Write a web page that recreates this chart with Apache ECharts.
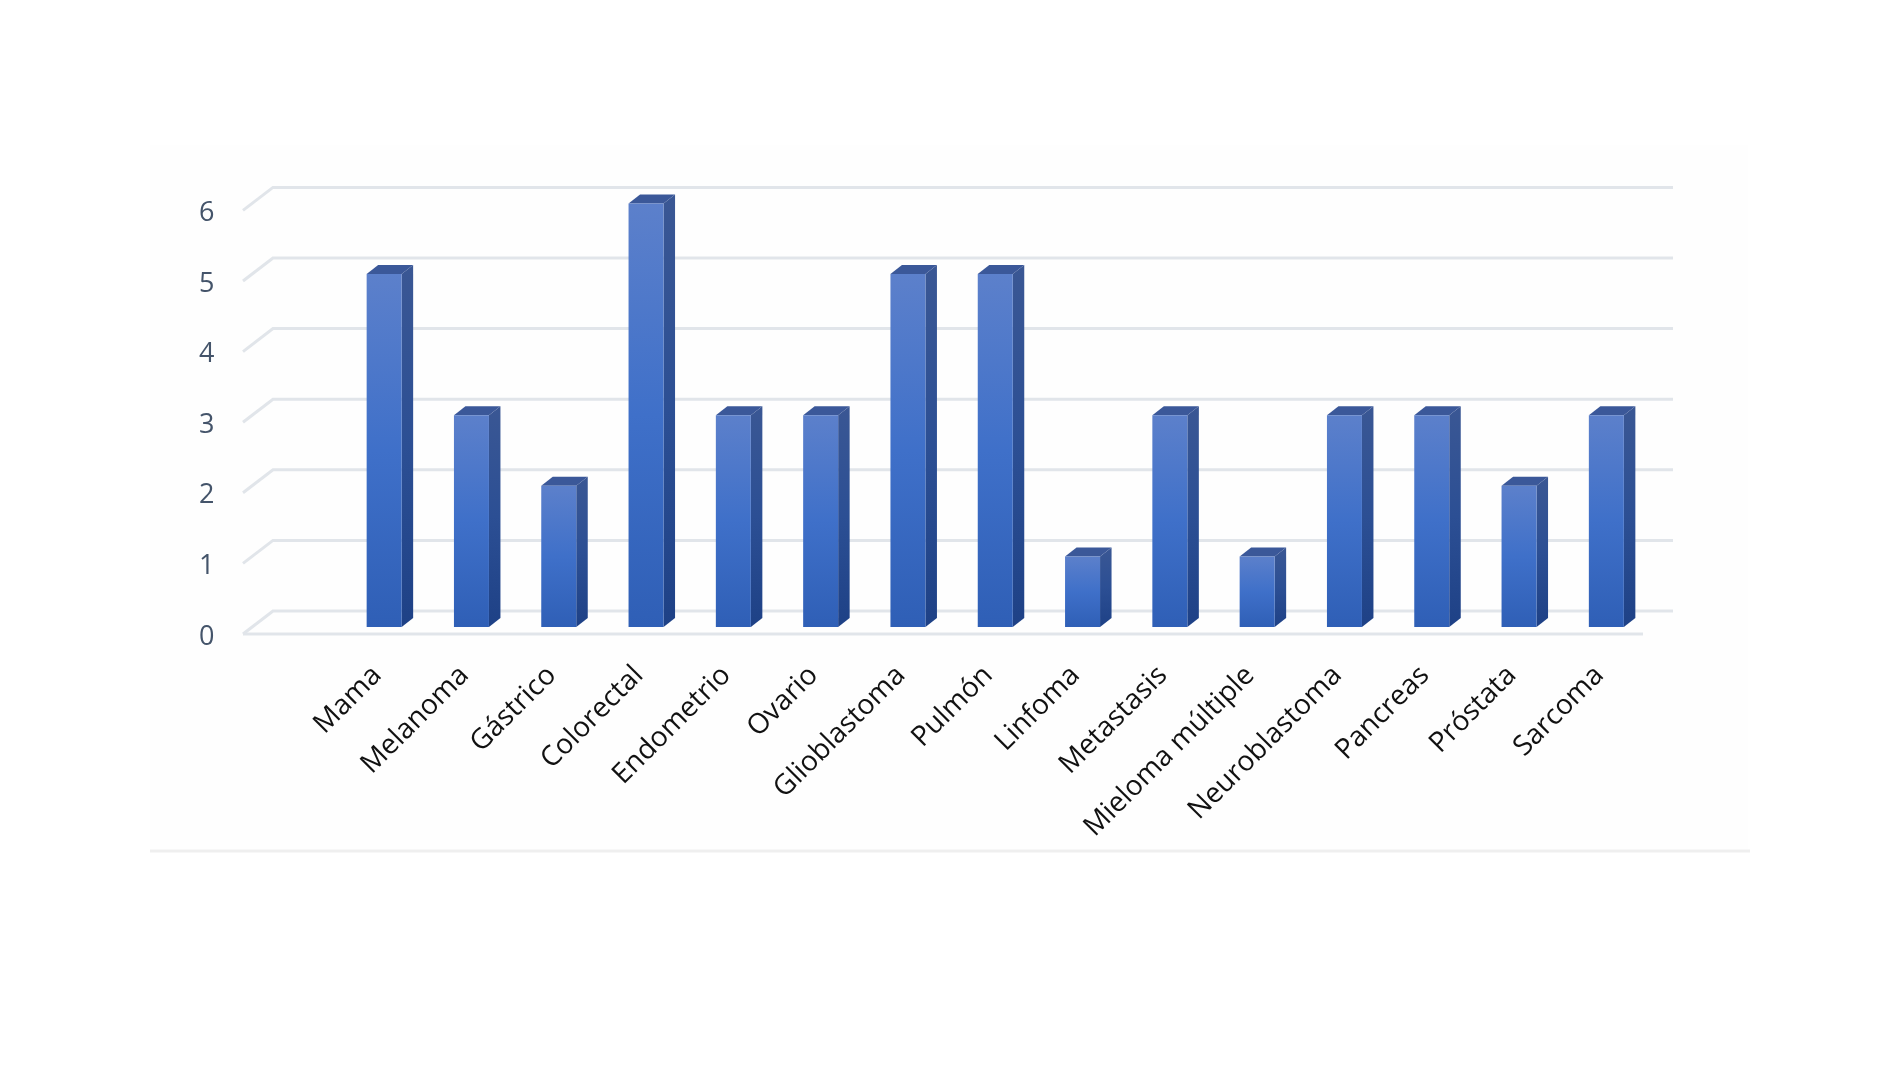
<!DOCTYPE html>
<html><head><meta charset="utf-8">
<style>html,body{margin:0;padding:0;background:#fff}#c{width:1900px;height:1069px}</style>
<script src="https://cdn.jsdelivr.net/npm/echarts@6/dist/echarts.min.js"></script>
</head><body><div id="c"></div>
<script>
const categories = ['Mama','Melanoma','Gástrico','Colorectal','Endometrio','Ovario','Glioblastoma','Pulmón','Linfoma','Metastasis','Mieloma múltiple','Neuroblastoma','Pancreas','Próstata','Sarcoma'];
const values = [5,3,2,6,3,3,5,5,1,3,1,3,3,2,3];
const yTicks = [0,1,2,3,4,5,6];

const chart = echarts.init(document.getElementById('c'), null, {renderer:'canvas'});
const grad = (a,b,c) => new echarts.graphic.LinearGradient(0,0,0,1,[{offset:0,color:a},{offset:.5,color:b},{offset:1,color:c}]);

chart.setOption({
  backgroundColor:'#ffffff',
  animation:false,
  graphic:[
    {type:'rect',silent:true,z:-10,shape:{x:150,y:145,width:1598,height:705},style:{fill:'#fefefe'}},
    {type:'line',silent:true,z:-9,shape:{x1:150,y1:851,x2:1750,y2:851},style:{stroke:'#efefef',lineWidth:3}}
  ],
  grid:{left:340.5,top:203.4,width:1309.5,height:423.6,containLabel:false},
  xAxis:{type:'category',data:categories,
    axisLine:{show:false},axisTick:{show:false},splitLine:{show:false},
    axisLabel:{rotate:45,interval:0,margin:51,verticalAlign:'bottom',lineHeight:20,fontFamily:'Open Sans',fontSize:28,color:'#111111'}},
  yAxis:{type:'value',min:0,max:6,interval:1,
    axisLine:{show:false},axisTick:{show:false},splitLine:{show:false},
    axisLabel:{margin:126,verticalAlign:'top',lineHeight:20,fontFamily:'Open Sans',fontSize:27,color:'#44546a'}},
  series:[
    {type:'custom',name:'grid',coordinateSystem:'cartesian2d',silent:true,z:1,clip:false,
     encode:{y:0},data:yTicks.map(v=>[v]),
     renderItem(params,api){
       const v=api.value(0), y=api.coord([0,v])[1], g=params.coordSys;
       const x0=g.x-97.5, x1=g.x-67.5, x2=g.x+g.width+23;
       const st={stroke:'#e1e5ea',lineWidth:3,fill:null};
       const kids=[
         {type:'polyline',shape:{points:[[x0,y+7],[x1,y-16],[x2,y-16]]},style:st}
       ];
       if(v===0) kids.push({type:'line',shape:{x1:x0,y1:y+7,x2:x2-30,y2:y+7},style:st});
       return {type:'group',children:kids};
     }},
    {type:'custom',name:'Casos',coordinateSystem:'cartesian2d',z:2,clip:false,
     encode:{x:0,y:1},data:categories.map((c,i)=>[i,values[i]]),
     renderItem(params,api){
       const t=api.coord([api.value(0),api.value(1)]), b=api.coord([api.value(0),0]);
       const w=35,dx=11.5,dy=9,l=t[0]-w/2,r=t[0]+w/2;
       return {type:'group',children:[
         {type:'polygon',shape:{points:[[r,t[1]],[r+dx,t[1]-dy],[r+dx,b[1]-dy],[r,b[1]]]},
          style:{fill:grad('#3a5794','#2c4f94','#1e4186')}},
         {type:'polygon',shape:{points:[[l,t[1]],[l+dx,t[1]-dy],[r+dx,t[1]-dy],[r,t[1]]]},
          style:{fill:'#3b5899'}},
         {type:'rect',shape:{x:l,y:t[1],width:w,height:b[1]-t[1]},
          style:{fill:grad('#5c80cb','#3f70c9','#2f5fb6')}}
       ]};
     }}
  ]
});
</script></body></html>
